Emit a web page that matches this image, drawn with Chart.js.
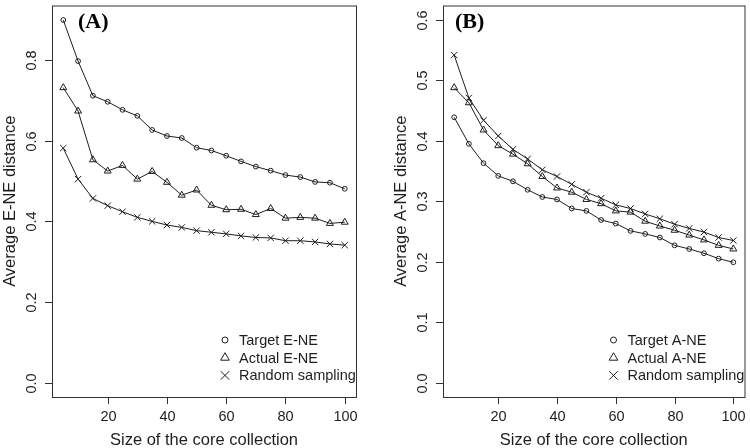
<!DOCTYPE html>
<html>
<head>
<meta charset="utf-8">
<script src="https://cdn.jsdelivr.net/npm/chart.js@4.4.1/dist/chart.umd.min.js"></script>
<style>
  html, body { margin: 0; padding: 0; background: #fff; }
  #wrap { position: relative; width: 750px; height: 448px; }
  .panel { position: absolute; top: 0; width: 375px; height: 448px; }
</style>
</head>
<body>
<div id="wrap">
  <div class="panel" style="left:0"><canvas id="chartA" width="375" height="448"></canvas></div>
  <div class="panel" style="left:375px"><canvas id="chartB" width="375" height="448"></canvas></div>
</div>
<script>
// core collection sizes (x)
const sizes = [5, 10, 15, 20, 25, 30, 35, 40, 45, 50, 55, 60, 65, 70, 75, 80, 85, 90, 95, 100];

// panel A - E-NE distance
const targetENE = [0.900, 0.798, 0.712, 0.697, 0.677, 0.662, 0.627, 0.612, 0.607, 0.583, 0.576, 0.563, 0.549, 0.536, 0.526, 0.515, 0.510, 0.498, 0.496, 0.481];
const actualENE = [0.732, 0.674, 0.553, 0.525, 0.539, 0.505, 0.524, 0.497, 0.465, 0.478, 0.440, 0.429, 0.430, 0.417, 0.432, 0.408, 0.410, 0.408, 0.395, 0.398];
const randomENE = [0.582, 0.505, 0.457, 0.439, 0.424, 0.410, 0.400, 0.391, 0.385, 0.377, 0.373, 0.369, 0.364, 0.360, 0.359, 0.352, 0.352, 0.349, 0.344, 0.341];

// panel B - A-NE distance
const targetANE = [0.439, 0.395, 0.363, 0.342, 0.333, 0.319, 0.307, 0.303, 0.288, 0.284, 0.269, 0.263, 0.251, 0.246, 0.240, 0.227, 0.221, 0.214, 0.205, 0.199];
const actualANE = [0.488, 0.463, 0.418, 0.392, 0.378, 0.362, 0.341, 0.322, 0.315, 0.303, 0.296, 0.284, 0.282, 0.267, 0.259, 0.252, 0.244, 0.236, 0.227, 0.221];
const randomANE = [0.542, 0.471, 0.434, 0.408, 0.386, 0.370, 0.352, 0.341, 0.328, 0.315, 0.305, 0.294, 0.288, 0.279, 0.271, 0.262, 0.255, 0.249, 0.240, 0.235];

// tick labels
const xTicks = [20, 40, 60, 80, 100];
const yTicksA = [0, 0.2, 0.4, 0.6, 0.8];
const yTicksB = [0, 0.1, 0.2, 0.3, 0.4, 0.5, 0.6];

const legendA = ['Target E-NE', 'Actual E-NE', 'Random sampling'];
const legendB = ['Target A-NE', 'Actual A-NE', 'Random sampling'];

const INK = '#1e1e1e';
const SANS = '"Liberation Sans", Arial, sans-serif';

// R-like axes, box, labels and legend
const rAxes = {
    id: 'rAxes',
    afterDraw(chart, args, o) {
        const { ctx, chartArea: a, scales: { x, y } } = chart;
        ctx.save();
        ctx.strokeStyle = '#333';
        ctx.lineWidth = 1;
        ctx.strokeRect(a.left + 0.5, a.top + 0.5, a.right - a.left, a.bottom - a.top);

        ctx.fillStyle = INK;
        ctx.font = '14.5px ' + SANS;
        ctx.textAlign = 'center';
        ctx.textBaseline = 'middle';

        // y ticks
        o.yTicks.forEach(v => {
            const py = Math.round(y.getPixelForValue(v)) + 0.5;
            ctx.beginPath();
            ctx.moveTo(a.left - 7, py);
            ctx.lineTo(a.left, py);
            ctx.stroke();
            ctx.save();
            ctx.translate(a.left - 20, py);
            ctx.rotate(-Math.PI / 2);
            ctx.fillText(v.toFixed(1), 0, 0);
            ctx.restore();
        });

        // x ticks
        o.xTicks.forEach(v => {
            const px = Math.round(x.getPixelForValue(v)) + 0.5;
            ctx.beginPath();
            ctx.moveTo(px, a.bottom);
            ctx.lineTo(px, a.bottom + 7);
            ctx.stroke();
            ctx.fillText(String(v), px, a.bottom + 20);
        });

        // axis titles
        ctx.font = '16.5px ' + SANS;
        ctx.fillText(o.xTitle, (a.left + a.right) / 2, a.bottom + 43);
        ctx.save();
        ctx.translate(a.left - 42, (a.top + a.bottom) / 2);
        ctx.rotate(-Math.PI / 2);
        ctx.fillText(o.yTitle, 0, 0);
        ctx.restore();

        // panel label
        ctx.font = 'bold 22px "Liberation Serif", "Times New Roman", serif';
        ctx.textAlign = 'left';
        ctx.fillStyle = '#000';
        ctx.fillText(o.panel, a.left + o.panelDx, a.top + 17);

        // legend
        const styles = [['circle', 3], ['triangle', 5], ['crossRot', 6]];
        ctx.font = '14.5px ' + SANS;
        o.legend.forEach((txt, i) => {
            const ly = a.bottom - 57 + i * 17.7;
            ctx.strokeStyle = INK;
            ctx.fillStyle = 'rgba(0,0,0,0)';
            Chart.helpers.drawPoint(ctx, { pointStyle: styles[i][0], radius: styles[i][1], rotation: 0, borderWidth: 1 }, a.right - 131, ly);
            ctx.fillStyle = INK;
            ctx.fillText(txt, a.right - 117, ly + 1);
        });
        ctx.restore();
    }
};

function series(label, vals, style, r) {
    return {
        label: label,
        data: sizes.map((s, i) => ({ x: s, y: vals[i] })),
        borderColor: INK,
        borderWidth: 1,
        pointStyle: style,
        pointRadius: r,
        pointBorderColor: INK,
        pointBackgroundColor: 'rgba(0,0,0,0)',
        pointBorderWidth: 1,
        tension: 0
    };
}

function makeChart(id, sets, yMin, yMax, pad, opts) {
    return new Chart(document.getElementById(id), {
        type: 'line',
        data: { datasets: sets },
        options: {
            responsive: false,
            animation: false,
            devicePixelRatio: 1,
            layout: { padding: pad },
            scales: {
                x: { type: 'linear', display: false, min: 1.2, max: 103.8 },
                y: { display: false, min: yMin, max: yMax }
            },
            plugins: { legend: { display: false }, tooltip: { enabled: false }, rAxes: opts }
        },
        plugins: [rAxes]
    });
}

makeChart('chartA', [
    series(legendA[0], targetENE, 'circle', 2.4),
    series(legendA[1], actualENE, 'triangle', 4),
    series(legendA[2], randomENE, 'crossRot', 4.5)
], -0.036, 0.936, { left: 52, right: 19, top: 3, bottom: 51 }, {
    yTicks: yTicksA, xTicks: xTicks, legend: legendA,
    xTitle: 'Size of the core collection', yTitle: 'Average E-NE distance',
    panel: '(A)', panelDx: 26
});

makeChart('chartB', [
    series(legendB[0], targetANE, 'circle', 2.4),
    series(legendB[1], actualANE, 'triangle', 4),
    series(legendB[2], randomANE, 'crossRot', 4.5)
], -0.024, 0.624, { left: 68, right: 2, top: 3, bottom: 51 }, {
    yTicks: yTicksB, xTicks: xTicks, legend: legendB,
    xTitle: 'Size of the core collection', yTitle: 'Average A-NE distance',
    panel: '(B)', panelDx: 12
});
</script>
</body>
</html>
